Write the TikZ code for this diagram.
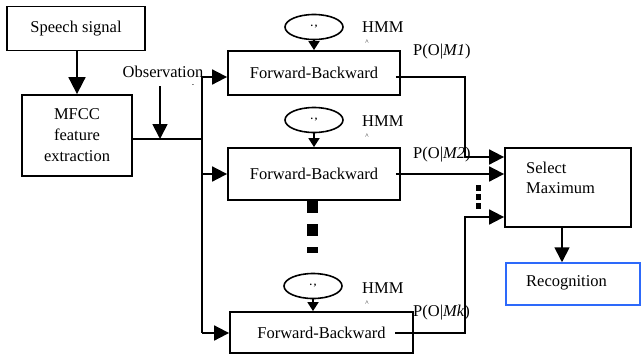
\documentclass[tikz,border=0pt]{standalone}
\usepackage{fontspec}
\setmainfont{Liberation Serif}
\usetikzlibrary{arrows.meta,shapes.geometric}
\definecolor{recblue}{RGB}{45,105,250}
\begin{document}
\begin{tikzpicture}[x=1pt,y=-1pt,
  every node/.style={font=\fontsize{16.5}{19.5}\selectfont, inner sep=0pt},
  box/.style={draw, line width=1.8pt},
  conn/.style={line width=1.8pt},
  arr/.style={conn, -{Triangle[length=15pt,width=15pt]}},
  bigarr/.style={conn, -{Triangle[length=17pt,width=17pt]}},
  smallarr/.style={conn, -{Triangle[length=9pt,width=11pt]}},
  ell/.style={draw, ellipse, line width=1.6pt, minimum width=58pt, minimum height=25pt},
  tinymark/.style={font=\fontsize{7}{7}\selectfont},
]
\useasboundingbox (0,0) rectangle (642,356);

% boxes
\node[box, minimum width=138pt, minimum height=44pt] (speech) at (76,28.5) {Speech signal};
\node[box, minimum width=110pt, minimum height=81pt, align=center,
      font=\fontsize{16.5}{21}\selectfont] (mfcc) at (77,135.5) {MFCC\\feature\\extraction};
\node[box, minimum width=172pt, minimum height=44pt] (fb1) at (314,73) {Forward-Backward};
\node[box, minimum width=172pt, minimum height=52pt] (fb2) at (314,174) {Forward-Backward};
\node[box, minimum width=183pt, minimum height=41pt] (fb3) at (321.5,332.5) {Forward-Backward};
\node[box, minimum width=126pt, minimum height=79pt] (sel) at (568,187.5) {};
\node[anchor=west, align=left] (seltext) at (526,178) {Select\\Maximum};
\node[draw=recblue, line width=1.5pt, minimum width=134pt, minimum height=42pt] (rec) at (573,284) {};
\node[anchor=west] (rectext) at (526,283) {Recognition};

% HMM ellipses
\node[ell] (e1) at (314,27) {\fontsize{10}{10}\selectfont\textbf{.\,,}};
\node[ell] (e2) at (314,120) {\fontsize{10}{10}\selectfont\textbf{.\,,}};
\node[ell] (e3) at (313,286) {\fontsize{10}{10}\selectfont\textbf{.\,,}};
\node[anchor=west] (h1) at (362,27) {HMM};
\node[anchor=west] (h2) at (362,121) {HMM};
\node[anchor=west] (h3) at (362,288) {HMM};
\node[tinymark] (t1) at (367,42) {\textasciicircum};
\node[tinymark] (t2) at (367,136) {\textasciicircum};
\node[tinymark] (t3) at (367,303) {\textasciicircum};

% labels
\node (obs) at (163,72) {Observation};
\node[tinymark] (t0) at (193,86) {-};
\node[anchor=west] (p1) at (413,52) {P(O|\textit{M1})};
\node[anchor=west] (p2) at (413,155) {P(O|\textit{M2})};
\node[anchor=west] (pk) at (413,313) {P(O|\textit{Mk})};

% coordinates
\coordinate (j) at (202,139);
\coordinate (btop) at (202,77);
\coordinate (bbot) at (202,333);
\coordinate (obsa) at (160,86);
\coordinate (o1) at (465,77);
\coordinate (o3) at (465,333);
\coordinate (in1) at (505,157);
\coordinate (in3) at (505,217);
\coordinate (sd) at (562,227);

% connectors
\draw[bigarr] (mfcc.north |- speech.south) -- (mfcc.north);
\draw[conn] (mfcc.east |- j) -- (j);
\draw[arr] (obsa) -- (obsa |- j);
\draw[conn] (btop) -- (bbot);
\draw[arr] (btop) -- (btop -| fb1.west);
\draw[arr] (j |- fb2.west) -- (fb2.west);
\draw[arr] (bbot) -- (bbot -| fb3.west);

\draw[smallarr] (e1.south) -- (e1.south |- fb1.north);
\draw[smallarr] (e2.south) -- (e2.south |- fb2.north);
\draw[smallarr] (e3.south) -- (e3.south |- fb3.north);

\draw[arr] ([xshift=-5pt]fb1.east |- o1) -- (o1) |- (sel.west |- in1);
\draw[arr] ([xshift=-5pt]fb2.east) -- (sel.west |- fb2.east);
\draw[arr] (395,333) -- (o3) |- (sel.west |- in3);
\draw[arr] (sd) -- (sd |- rec.north);

% continuation dots
\draw[line width=11pt, dash pattern=on 11.5pt off 11.5pt] (312,201) -- (312,253);
\draw[line width=5pt, dash pattern=on 5.5pt off 3.5pt] (478,185) -- (478,209);
\end{tikzpicture}
\end{document}
